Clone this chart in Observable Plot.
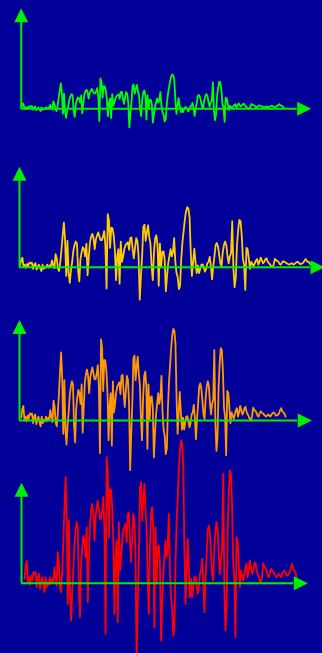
<!DOCTYPE html>
<html><head><meta charset="utf-8">
<script src="https://cdn.jsdelivr.net/npm/d3@7"></script>
<script src="https://cdn.jsdelivr.net/npm/@observablehq/plot@0.6"></script>
<style>
html,body{margin:0;padding:0;background:#000099;}
#chart{position:relative;width:322px;height:653px;overflow:hidden;background:#000099;}
#chart svg{position:absolute;left:0;top:0;}
</style></head><body><div id="chart"></div>
<script>
// One waveform, drawn four times at different scales
const signal = [13,53,68,3,18,-4,23,8,33,28,33,-12,18,28,-17,3,18,-7,-27,18,-12,3,-4,18,-2,13,3,48,18,-7,93,63,-12,-27,38,128,228,318,198,-62,188,-42,-112,-22,38,118,158,183,168,-22,-102,58,108,143,128,78,168,-57,68,178,218,238,208,128,198,228,248,218,193,193,218,258,158,-152,378,338,138,283,278,228,128,-92,78,128,-117,183,38,78,128,158,168,178,123,208,213,128,63,138,208,188,78,-232,-62,78,288,303,188,248,298,218,168,8,-92,108,208,228,158,-132,168,-2,108,113,58,-172,-62,28,78,128,78,108,208,38,-42,-72,-157,-132,58,178,258,338,398,428,418,358,108,-62,38,133,38,-42,13,-42,-12,18,20,-2,-32,-12,28,38,73,8,-87,8,78,158,173,148,88,28,8,108,158,183,158,78,28,78,98,328,-12,-142,-72,158,268,338,328,228,58,18,-162,138,128,58,-12,38,23,8,28,48,58,18,38,68,48,28,38,58,63,38,28,18,5,0,20,60,50,45,38,23,18,33,43,38,33,28,23,18,23,28,23,18,28,33,38,33,23,23,28,33,48,58,43,38,33,18];
const seriesNames = ["green", "yellow", "orange", "red"];
const seriesColors = ["#00ff00", "#ffcc00", "#ff9900", "#ff0000"];

// layout (pixels)
const layout = [
  {axisX: 20.7, axisY: 108.3, x0: 20.7, x1: 283, peak: 34.3, xEnd: 296.7},
  {axisX: 19,   axisY: 266.7, x0: 19.5, x1: 310, peak: 60,   xEnd: 310},
  {axisX: 19,   axisY: 420,   x0: 20.7, x1: 285, peak: 91.7, xEnd: 297.3},
  {axisX: 21,   axisY: 582.7, x0: 24,   x1: 296, peak: 142.7, xEnd: 293.3}
];
const axisColor = "#00ee00";
const yAxisLen = 86.5;

const arrowUp = {draw(ctx) { ctx.moveTo(0, -14); ctx.lineTo(7, 0); ctx.lineTo(-7, 0); ctx.closePath(); }};
const arrowRight = {draw(ctx) { ctx.moveTo(14, 0); ctx.lineTo(0, 7); ctx.lineTo(0, -7); ctx.closePath(); }};

const n = signal.length;
const vmax = d3.max(signal);
const data = signal.map((v, i) => ({i, v}));
const chart = document.getElementById("chart");

layout.forEach((p, k) => {
  const xs = d3.scaleLinear([0, n - 1], [p.x0, p.x1]);
  const ys = d3.scaleLinear([0, vmax], [p.axisY, p.axisY - p.peak]);
  const ax = xs.invert(p.axisX), axEnd = xs.invert(p.xEnd), ayTop = ys.invert(p.axisY - yAxisLen);
  const svg = Plot.plot({
    width: 322, height: 653,
    x: {domain: [0, n - 1], range: [p.x0, p.x1], axis: null},
    y: {domain: [0, vmax], range: [p.axisY, p.axisY - p.peak], axis: null},
    style: {background: "transparent", overflow: "visible"},
    marks: [
      Plot.line(data, {x: "i", y: "v", stroke: seriesColors[k], strokeWidth: 1.8, strokeLinejoin: "round", title: () => seriesNames[k]}),
      Plot.ruleY([0], {x1: ax, x2: axEnd, stroke: axisColor, strokeWidth: 2}),
      Plot.ruleX([ax], {y1: 0, y2: ayTop, stroke: axisColor, strokeWidth: 2}),
      Plot.dot([{x: ax, y: ayTop}], {x: "x", y: "y", symbol: arrowUp, fill: axisColor, stroke: "none", r: 5}),
      Plot.dot([{x: axEnd, y: 0}], {x: "x", y: "y", symbol: arrowRight, fill: axisColor, stroke: "none", r: 5})
    ]
  });
  chart.appendChild(svg);
});
</script>
</body></html>
